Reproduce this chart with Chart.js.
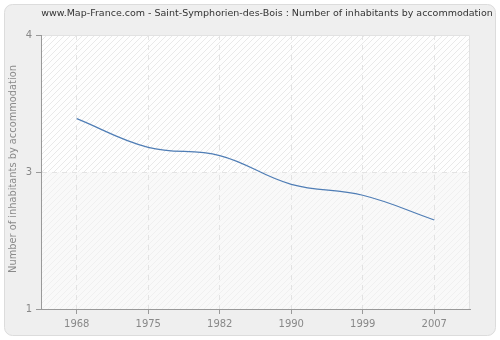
<!DOCTYPE html>
<html>
<head>
<meta charset="utf-8">
<script src="https://cdn.jsdelivr.net/npm/chart.js@4/dist/chart.umd.min.js"></script>
<style>
  html, body { margin: 0; padding: 0; background: #fff; }
  #wrap { width: 500px; height: 340px; }
</style>
</head>
<body>
<div id="wrap"><canvas id="chart" width="500" height="340"></canvas></div>
<script>
// data
const years = ['1968', '1975', '1982', '1990', '1999', '2007'];
const inhabitants = [2.89, 2.68, 2.62, 2.41, 2.33, 2.15];
const yTickValues = [1.5, 2.5, 3.5];
const yTickLabels = ['1', '3', '4'];

const titleText = 'www.Map-France.com - Saint-Symphorien-des-Bois : Number of inhabitants by accommodation';
const yTitleText = 'Number of inhabitants by accommodation';
const FONT = '"DejaVu Sans", Verdana, sans-serif';

// pick a font size so the text spans the given width
function fitFont(ctx, text, width) {
  ctx.font = '10px ' + FONT;
  const size = 10 * width / ctx.measureText(text).width;
  ctx.font = size.toFixed(2) + 'px ' + FONT;
}

function hatch(ctx, x0, y0, w, h, fill, stroke) {
  ctx.save();
  ctx.beginPath();
  ctx.rect(x0, y0, w, h);
  ctx.clip();
  ctx.fillStyle = fill;
  ctx.fillRect(x0, y0, w, h);
  ctx.strokeStyle = stroke;
  ctx.lineWidth = 1;
  ctx.beginPath();
  for (let k = -h; k < w + h; k += 6) {
    ctx.moveTo(x0 + k, y0 + h);
    ctx.lineTo(x0 + k + h, y0);
  }
  ctx.stroke();
  ctx.restore();
}

// panel, striped plot background, titles
const decor = {
  id: 'decor',
  beforeDraw(chart) {
    const { ctx, chartArea: a, scales } = chart;
    ctx.save();
    ctx.fillStyle = '#fff';
    ctx.fillRect(0, 0, chart.width, chart.height);
    ctx.beginPath();
    ctx.roundRect(4.5, 4.5, 491, 331, 8);
    ctx.fillStyle = '#efefef';
    ctx.fill();
    ctx.strokeStyle = '#dcdcdc';
    ctx.lineWidth = 1;
    ctx.stroke();
    ctx.restore();

    const mid = scales.y.getPixelForValue(yTickValues[1]);
    hatch(ctx, a.left, a.top, a.right - a.left, mid - a.top, '#fefefe', '#e9e9e9');
    hatch(ctx, a.left, mid, a.right - a.left, a.bottom - mid, '#f9f9f9', '#f0f0f0');

    ctx.save();
    ctx.strokeStyle = '#e2e2e2';
    ctx.lineWidth = 1;
    ctx.beginPath();
    ctx.moveTo(a.left, a.top + 0.5);
    ctx.lineTo(a.right - 0.5, a.top + 0.5);
    ctx.lineTo(a.right - 0.5, a.bottom);
    ctx.stroke();
    ctx.restore();
  },
  afterDraw(chart) {
    const { ctx } = chart;
    ctx.save();
    ctx.textAlign = 'center';
    ctx.textBaseline = 'middle';
    ctx.fillStyle = '#333';
    fitFont(ctx, titleText, 452);
    ctx.fillText(titleText, 267, 14);
    ctx.translate(13, 169);
    ctx.rotate(-Math.PI / 2);
    ctx.fillStyle = '#8a8a8a';
    fitFont(ctx, yTitleText, 208);
    ctx.fillText(yTitleText, 0, 0);
    ctx.restore();
  }
};

new Chart(document.getElementById('chart'), {
  type: 'line',
  data: {
    labels: years,
    datasets: [{
      data: inhabitants,
      borderColor: '#4f7db5',
      borderWidth: 1.2,
      pointRadius: 0,
      fill: false,
      tension: 0.4
    }]
  },
  options: {
    responsive: false,
    devicePixelRatio: 1,
    animation: false,
    layout: { padding: { left: 0, top: 35, right: 30, bottom: 0 } },
    plugins: { legend: { display: false }, title: { display: false }, tooltip: { enabled: false } },
    scales: {
      x: {
        offset: true,
        afterFit(scale) { scale.height = 31; },
        grid: {
          offset: false,
          color: '#e3e3e3',
          tickColor: '#999',
          tickLength: 5
        },
        border: { display: true, color: '#999', width: 1, dash: [5, 5] },
        ticks: { color: '#888', font: { family: FONT, size: 10 }, padding: 4, maxRotation: 0 }
      },
      y: {
        min: yTickValues[0],
        max: yTickValues[yTickValues.length - 1],
        afterFit(scale) { scale.width = 41; },
        afterBuildTicks(scale) { scale.ticks = yTickValues.map(v => ({ value: v })); },
        grid: {
          color: ctx => (ctx.index === 1 ? '#e3e3e3' : 'rgba(0,0,0,0)'),
          tickColor: '#999',
          tickLength: 5
        },
        border: { display: true, color: '#999', width: 1, dash: [5, 5] },
        ticks: {
          color: '#888',
          font: { family: FONT, size: 10 },
          padding: 4,
          callback: (v, i) => yTickLabels[i]
        }
      }
    }
  },
  plugins: [decor]
});
</script>
</body>
</html>
